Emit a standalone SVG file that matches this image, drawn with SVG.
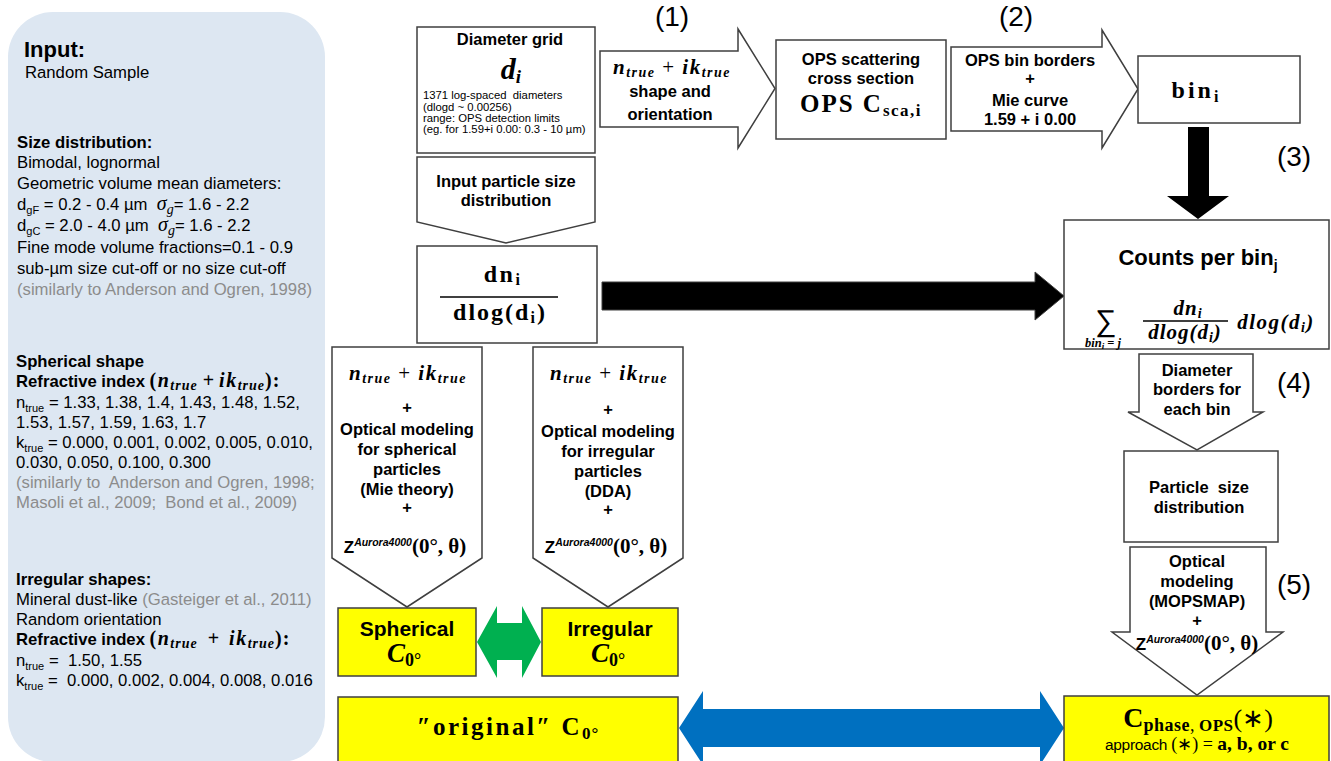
<svg xmlns="http://www.w3.org/2000/svg" width="1331" height="761" viewBox="0 0 1331 761">
<style>
text { font-family: "Liberation Sans", Arial, sans-serif; fill: #000; }
.bx { fill: #fff; stroke: #3f3f3f; stroke-width: 1.5; }
.yl { fill: #ffff00; stroke: #3f3f3f; stroke-width: 1.5; }
.b { font-weight: bold; }
.c { text-anchor: middle; }
.lp { font-size: 16.7px; }
.bt { font-size: 16.5px; font-weight: bold; text-anchor: middle; }
.mi { font-family: "Liberation Serif", serif; font-weight: bold; font-style: italic; }
.sr { font-family: "Liberation Serif", serif; font-weight: bold; }
.gr { fill: #8c8c8c; }
.num { font-size: 28px; text-anchor: middle; }
.sm { font-size: 11.3px; }
.nk { font-family: "Liberation Serif", serif; font-weight: bold; font-style: italic; font-size: 21px; letter-spacing: 1.5px; }
</style>
<rect width="1331" height="761" fill="#fff"/>

<g id="input-panel">
  <rect x="8" y="12" width="317" height="750" rx="45" ry="45" fill="#dde7f2"/>
  <text x="24" y="57" class="b" font-size="22">Input:</text>
  <text x="25" y="78" class="lp">Random Sample</text>
  <text x="17" y="148" class="lp b">Size distribution:</text>
  <text x="17" y="168" class="lp">Bimodal, lognormal</text>
  <text x="17" y="189" class="lp">Geometric volume mean diameters:</text>
  <text x="17" y="210" class="lp" xml:space="preserve">d<tspan font-size="11" dy="4">gF</tspan><tspan dy="-4"> = 0.2 - 0.4 µm  </tspan><tspan font-family="Liberation Serif, serif" font-style="italic" font-size="20">σ</tspan><tspan font-family="Liberation Serif, serif" font-style="italic" font-size="14" dy="4">g</tspan><tspan dy="-4">= 1.6 - 2.2</tspan></text>
  <text x="17" y="231" class="lp" xml:space="preserve">d<tspan font-size="11" dy="4">gC</tspan><tspan dy="-4"> = 2.0 - 4.0 µm  </tspan><tspan font-family="Liberation Serif, serif" font-style="italic" font-size="20">σ</tspan><tspan font-family="Liberation Serif, serif" font-style="italic" font-size="14" dy="4">g</tspan><tspan dy="-4">= 1.6 - 2.2</tspan></text>
  <text x="17" y="253" class="lp">Fine mode volume fractions=0.1 - 0.9</text>
  <text x="17" y="274" class="lp">sub-µm size cut-off or no size cut-off</text>
  <text x="17" y="295" class="lp gr">(similarly to Anderson and Ogren, 1998)</text>

  <text x="16" y="367" class="lp b">Spherical shape</text>
  <text x="16" y="387" class="lp b">Refractive index <tspan class="sr" font-size="20" letter-spacing="1.5">(</tspan><tspan class="mi" font-size="20" letter-spacing="1.5">n</tspan><tspan class="mi" font-size="14" dy="3" letter-spacing="1">true</tspan><tspan class="sr" font-size="20" dy="-3" font-weight="normal"> + </tspan><tspan class="mi" font-size="20" letter-spacing="1.5">ik</tspan><tspan class="mi" font-size="14" dy="3" letter-spacing="1">true</tspan><tspan class="sr" font-size="20" dy="-3" letter-spacing="1">):</tspan></text>
  <text x="16" y="408" class="lp">n<tspan font-size="11" dy="4">true</tspan><tspan dy="-4"> = 1.33, 1.38, 1.4, 1.43, 1.48, 1.52,</tspan></text>
  <text x="16" y="428" class="lp">1.53, 1.57, 1.59, 1.63, 1.7</text>
  <text x="16" y="448" class="lp">k<tspan font-size="11" dy="4">true</tspan><tspan dy="-4"> = 0.000, 0.001, 0.002, 0.005, 0.010,</tspan></text>
  <text x="16" y="468" class="lp">0.030, 0.050, 0.100, 0.300</text>
  <text x="16" y="488" class="lp gr" xml:space="preserve">(similarly to  Anderson and Ogren, 1998;</text>
  <text x="16" y="508" class="lp gr" xml:space="preserve">Masoli et al., 2009;  Bond et al., 2009)</text>

  <text x="16" y="585" class="lp b">Irregular shapes:</text>
  <text x="16" y="605" class="lp">Mineral dust-like <tspan class="gr">(Gasteiger et al., 2011)</tspan></text>
  <text x="16" y="625" class="lp">Random orientation</text>
  <text x="16" y="645" class="lp b" xml:space="preserve">Refractive index <tspan class="sr" font-size="20" letter-spacing="1.5">(</tspan><tspan class="mi" font-size="20" letter-spacing="1.5">n</tspan><tspan class="mi" font-size="14" dy="3" letter-spacing="1">true</tspan><tspan class="sr" font-size="20" dy="-3" font-weight="normal">  +  </tspan><tspan class="mi" font-size="20" letter-spacing="1.5">ik</tspan><tspan class="mi" font-size="14" dy="3" letter-spacing="1">true</tspan><tspan class="sr" font-size="20" dy="-3" letter-spacing="1">):</tspan></text>
  <text x="16" y="666" class="lp" xml:space="preserve">n<tspan font-size="11" dy="4">true</tspan><tspan dy="-4"> =  1.50, 1.55</tspan></text>
  <text x="16" y="686" class="lp" xml:space="preserve">k<tspan font-size="11" dy="4">true</tspan><tspan dy="-4"> =  0.000, 0.002, 0.004, 0.008, 0.016</tspan></text>
</g>

<g id="connectors">
  <polygon id="arrow-dn-to-counts" points="602,282 1035,282 1035,272 1064,296 1035,320 1035,310 602,310" fill="#000" stroke="#3f3f3f" stroke-width="1"/>
  <polygon id="arrow-bin-to-counts" points="1188,127 1209,127 1209,196 1229,196 1198,219 1167,196 1188,196" fill="#000"/>
  <polygon id="arrow-green" points="477,642 497,606 497,623 522,623 522,606 541,642 522,678 522,660 497,660 497,678" fill="#00b050"/>
  <polygon id="arrow-blue" points="679,728 703,691 703,709 1040,709 1040,691 1064,728 1040,765 1040,747 703,747 703,765" fill="#0070c0"/>
</g>

<g id="diameter-grid">
  <rect x="417" y="27" width="178" height="126" class="bx"/>
  <text x="510" y="45" class="bt">Diameter grid</text>
  <text x="511" y="79" class="mi c" font-size="30">d<tspan font-size="19" dy="4">i</tspan></text>
  <text x="423" y="99" class="sm" xml:space="preserve">1371 log-spaced  diameters</text>
  <text x="423" y="110.5" class="sm">(dlogd ~ 0.00256)</text>
  <text x="423" y="121.5" class="sm">range: OPS detection limits</text>
  <text x="423" y="132.5" class="sm">(eg. for 1.59+i 0.00: 0.3 - 10 µm)</text>
</g>

<g id="input-psd">
  <polygon points="417,157 595,157 595,222 506,243 417,222" class="bx"/>
  <text x="506" y="187" class="bt" font-size="17">Input particle size</text>
  <text x="506" y="206" class="bt" font-size="17">distribution</text>
</g>

<g id="dn-dlog">
  <rect x="417" y="246" width="180" height="97" class="bx"/>
  <text x="503" y="282" class="sr c" font-size="24" letter-spacing="2.5">dn<tspan font-size="16" dy="3">i</tspan></text>
  <line x1="440" y1="297" x2="558" y2="297" stroke="#000" stroke-width="1.5"/>
  <text x="500" y="320" class="sr c" font-size="24" letter-spacing="2">dlog(d<tspan font-size="16" dy="3">i</tspan><tspan dy="-3">)</tspan></text>
</g>

<g id="step1">
  <text x="672" y="26" class="num">(1)</text>
  <polygon points="600,51 738,51 738,29 775,88.5 738,148 738,127 600,127" class="bx"/>
  <text x="672" y="74" class="nk c">n<tspan font-size="14" dy="3">true</tspan><tspan dy="-3" font-style="normal" font-weight="normal"> + </tspan><tspan>ik</tspan><tspan font-size="14" dy="3">true</tspan></text>
  <text x="670" y="97" class="bt">shape and</text>
  <text x="670" y="120" class="bt">orientation</text>
</g>

<g id="ops-csca">
  <rect x="776" y="40" width="170" height="99" class="bx"/>
  <text x="861" y="65" class="bt">OPS scattering</text>
  <text x="861" y="84" class="bt">cross section</text>
  <text x="861" y="112" class="sr c" font-size="25" letter-spacing="2">OPS C<tspan font-size="17" dy="4" letter-spacing="1.5">sca,i</tspan></text>
</g>

<g id="step2">
  <text x="1016" y="26" class="num">(2)</text>
  <polygon points="951,47 1102,47 1102,30 1138,89 1102,148 1102,131 951,131" class="bx"/>
  <text x="1030" y="66" class="bt">OPS bin borders</text>
  <text x="1030" y="84" class="bt">+</text>
  <text x="1030" y="106" class="bt">Mie curve</text>
  <text x="1030" y="125" class="bt">1.59 + i 0.00</text>
</g>

<g id="bin-i">
  <rect x="1138" y="56" width="162" height="67" class="bx"/>
  <text x="1195" y="98" class="sr c" font-size="24" letter-spacing="3">bin<tspan font-size="16" dy="4" letter-spacing="0">i</tspan></text>
</g>

<text id="label3" x="1294" y="166" class="num">(3)</text>

<g id="counts-per-bin">
  <rect x="1064" y="220" width="265" height="129" class="bx"/>
  <text x="1198" y="265" class="b c" font-size="22">Counts per bin<tspan font-size="14" dy="5">j</tspan></text>
  <text x="1106" y="331" font-family="DejaVu Serif, serif" font-size="30" class="c">∑</text>
  <text x="1103" y="347" class="mi c" font-size="12.5">bin<tspan font-size="9" dy="2">i</tspan><tspan dy="-2" font-style="normal"> = </tspan><tspan>j</tspan></text>
  <text x="1188" y="315" class="mi c" font-size="21" letter-spacing="1">dn<tspan font-size="14" dy="3">i</tspan></text>
  <line x1="1143" y1="321" x2="1228" y2="321" stroke="#000" stroke-width="1.3"/>
  <text x="1185" y="339" class="mi c" font-size="21" letter-spacing="1">dlog(d<tspan font-size="14" dy="3">i</tspan><tspan dy="-3">)</tspan></text>
  <text x="1276" y="329" class="mi c" font-size="21" letter-spacing="1.5">dlog(d<tspan font-size="14" dy="3">i</tspan><tspan dy="-3">)</tspan></text>
</g>

<g id="step4">
  <text x="1294" y="392" class="num">(4)</text>
  <polygon points="1139,354 1253,354 1253,412 1263,412 1197,450 1128,412 1139,412" class="bx"/>
  <text x="1197" y="376" class="bt">Diameter</text>
  <text x="1197" y="395" class="bt">borders for</text>
  <text x="1197" y="415" class="bt">each bin</text>
</g>

<g id="psd-box">
  <rect x="1124" y="451" width="154" height="91" class="bx"/>
  <text x="1199" y="493" class="bt" xml:space="preserve">Particle  size</text>
  <text x="1199" y="513" class="bt">distribution</text>
</g>

<g id="step5">
  <text x="1294" y="594" class="num">(5)</text>
  <polygon points="1130,547 1266,547 1266,632 1283,632 1197,695 1112,632 1130,632" class="bx"/>
  <text x="1197" y="567" class="bt">Optical</text>
  <text x="1197" y="587" class="bt">modeling</text>
  <text x="1197" y="607" class="bt">(MOPSMAP)</text>
  <text x="1197" y="626" class="bt">+</text>
  <text x="1197" y="650" class="c"><tspan class="b" font-size="17">Z</tspan><tspan class="b" font-style="italic" font-size="10.5" dy="-7">Aurora4000</tspan><tspan class="sr" font-size="21" dy="7">(0°, θ)</tspan></text>
</g>

<g id="spherical-model">
  <polygon points="332,347 482,347 482,558 407,607 332,558" class="bx"/>
  <text x="408" y="380" class="nk c">n<tspan font-size="14" dy="3">true</tspan><tspan dy="-3" font-style="normal" font-weight="normal"> + </tspan><tspan>ik</tspan><tspan font-size="14" dy="3">true</tspan></text>
  <text x="407" y="413" class="bt">+</text>
  <text x="407" y="435" class="bt">Optical modeling</text>
  <text x="407" y="455" class="bt">for spherical</text>
  <text x="407" y="475" class="bt">particles</text>
  <text x="407" y="495" class="bt">(Mie theory)</text>
  <text x="407" y="513" class="bt">+</text>
  <text x="405" y="553" class="c"><tspan class="b" font-size="17">Z</tspan><tspan class="b" font-style="italic" font-size="10.5" dy="-7">Aurora4000</tspan><tspan class="sr" font-size="21" dy="7">(0°, θ)</tspan></text>
</g>

<g id="irregular-model">
  <polygon points="533,347 683,347 683,558 608,607 533,558" class="bx"/>
  <text x="609" y="380" class="nk c">n<tspan font-size="14" dy="3">true</tspan><tspan dy="-3" font-style="normal" font-weight="normal"> + </tspan><tspan>ik</tspan><tspan font-size="14" dy="3">true</tspan></text>
  <text x="608" y="415" class="bt">+</text>
  <text x="608" y="437" class="bt">Optical modeling</text>
  <text x="608" y="457" class="bt">for irregular</text>
  <text x="608" y="477" class="bt">particles</text>
  <text x="608" y="497" class="bt">(DDA)</text>
  <text x="608" y="515" class="bt">+</text>
  <text x="606" y="553" class="c"><tspan class="b" font-size="17">Z</tspan><tspan class="b" font-style="italic" font-size="10.5" dy="-7">Aurora4000</tspan><tspan class="sr" font-size="21" dy="7">(0°, θ)</tspan></text>
</g>

<g id="spherical-c0">
  <rect x="338" y="608" width="138" height="68" class="yl"/>
  <text x="407" y="636" class="b c" font-size="21">Spherical</text>
  <text x="404" y="662" class="mi c" font-size="27">C<tspan class="sr" font-style="normal" font-size="18" dy="4">0°</tspan></text>
</g>

<g id="irregular-c0">
  <rect x="542" y="608" width="136" height="68" class="yl"/>
  <text x="610" y="636" class="b c" font-size="21">Irregular</text>
  <text x="608" y="662" class="mi c" font-size="27">C<tspan class="sr" font-style="normal" font-size="18" dy="4">0°</tspan></text>
</g>

<g id="original-c0">
  <rect x="338" y="697" width="340" height="68" class="yl"/>
  <text x="508" y="735" class="sr c" font-size="25" letter-spacing="2.5">″original″ C<tspan font-size="17" dy="4" letter-spacing="1">0°</tspan></text>
</g>

<g id="cphase-ops">
  <rect x="1064" y="696" width="265" height="68" class="yl"/>
  <text x="1198" y="727" class="sr c" font-size="28">C<tspan font-size="18" dy="4" letter-spacing="0.5">phase</tspan><tspan font-size="18" font-weight="normal">, </tspan><tspan font-size="17" letter-spacing="0.5">OPS</tspan><tspan dy="-4" font-weight="normal" font-size="26">(∗)</tspan></text>
  <text x="1197" y="750" class="c"><tspan font-size="15.5" letter-spacing="-0.3">approach </tspan><tspan font-family="Liberation Serif, serif" font-size="18">(∗) = </tspan><tspan class="sr" font-size="19.5">a, b, or c</tspan></text>
</g>
</svg>
